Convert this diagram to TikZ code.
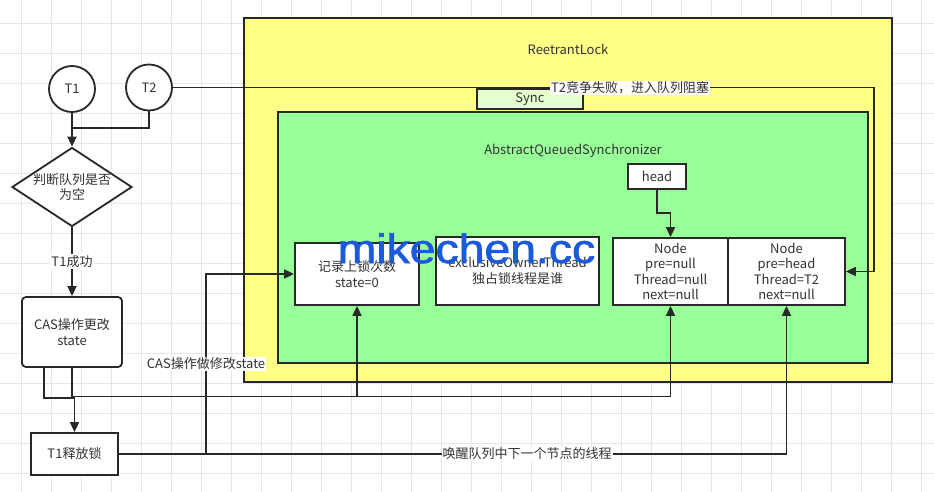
\documentclass[tikz,border=0pt]{standalone}
\usepackage{fontspec}
\setmainfont{Noto Sans CJK SC}
\newfontfamily\wmfont{Liberation Sans}[FakeBold=1.5]
\usetikzlibrary{arrows.meta,shapes.geometric}
\definecolor{linec}{RGB}{40,40,40}
\definecolor{textc}{RGB}{50,50,50}
\definecolor{gridc}{RGB}{230,230,230}
\definecolor{lockyellow}{RGB}{255,255,136}
\definecolor{aqsgreen}{RGB}{153,255,153}
\definecolor{syncgreen}{RGB}{230,255,204}
\definecolor{wmblue}{RGB}{28,90,220}
\begin{document}
\begin{tikzpicture}[x=1pt,y=-1pt,
  font=\fontsize{13}{15.6}\selectfont,
  line/.style={draw=linec, line width=1.8pt},
  arr/.style={line, -{Triangle[length=10pt,width=9pt]}},
  box/.style={draw=linec, line width=1.8pt, fill=white, inner sep=0pt, align=center, text=textc},
  lbl/.style={fill=white, inner sep=1pt, text=textc},
  gridl/.style={draw=gridc, line width=0.8pt}]
\fill[white] (0,0) rectangle (934,492);
\useasboundingbox (0,0) rectangle (934,492);
% grid
\foreach \i in {0,...,31}{\pgfmathsetmacro\gx{21.7+30*\i}\draw[gridl] (\gx,0) -- (\gx,492);}
\foreach \i in {0,...,16}{\pgfmathsetmacro\gy{23.5+30*\i}\draw[gridl] (0,\gy) -- (934,\gy);}
% containers
\node[box, fill=lockyellow, minimum width=648pt, minimum height=364pt] (lock) at (568,200) {};
\node[text=textc] (locklbl) at (568,49) {ReetrantLock};
\node[box, fill=syncgreen, minimum width=106pt, minimum height=20pt] (sync) at (530,99) {Sync};
\node[box, fill=aqsgreen, minimum width=590pt, minimum height=251pt] (aqs) at (573,237.5) {};
\node[text=textc] (aqslbl) at (573,151) {AbstractQueuedSynchronizer};
% inner boxes
\node[box, minimum width=58pt, minimum height=25pt] (head) at (657,176.5) {head};
\node[box, minimum width=124pt, minimum height=62pt] (rec) at (357,274) {记录上锁次数\\state=0};
\node[box, minimum width=163pt, minimum height=68pt] (excl) at (517.5,271) {exclusiveOwnerThread\\独占锁线程是谁};
\node[box, minimum width=115pt, minimum height=67pt] (n1) at (670.5,271.5) {Node\\pre=null\\Thread=null\\next=null};
\node[box, minimum width=117pt, minimum height=67pt] (n2) at (786.5,271.5) {Node\\pre=head\\Thread=T2\\next=null};
% flow
\node[box, circle, minimum size=46pt] (t1) at (72,89) {T1};
\node[box, circle, minimum size=46pt] (t2) at (149,87.5) {T2};
\node[box, diamond, minimum width=120pt, minimum height=79pt] (dia) at (72,187) {};
\node[align=center, text=textc, inner sep=0pt] (diatxt) at (72,187) {判断队列是否\\为空};
\node[box, rounded corners=4pt, minimum width=100pt, minimum height=70pt] (cas) at (72,332) {CAS操作更改\\state};
\node[box, minimum width=87pt, minimum height=42pt] (rel) at (74.5,454) {T1释放锁};
% helper coordinates
\coordinate (join) at (72,128);
\coordinate (xright) at (874,0);
\coordinate (ybus) at (0,396.5);
\coordinate (ylow) at (0,398);
\coordinate (xv) at (206,0);
\coordinate (hy) at (0,213);
% connectors
\draw[arr] (t1.south) -- (dia.north);
\draw[line] (t2.south) |- (join);
\draw[arr] (t2.east) -- (xright |- t2.east) -- (xright |- n2.east) -- (n2.east);
\node[lbl] (t2lbl) at (630,88) {T2竞争失败，进入队列阻塞};
\draw[arr] (dia.south) -- (cas.north);
\node[lbl] (oklbl) at (72,261.5) {T1成功};
\draw[arr] ([xshift=-28pt]cas.south) |- (ylow -| rel.north) -- (rel.north);
\draw[arr] (cas.south) |- (ybus -| rec.south) -- (rec.south);
\draw[arr] (cas.south) |- (ybus -| n1.south) -- (n1.south);
\draw[arr] (rel.east) -| (xv |- rec.west) -- (rec.west);
\node[lbl] (caslbl) at (206,364) {CAS操作做修改state};
\draw[arr] (rel.east) -| (n2.south);
\node[lbl] (wakelbl) at (527,454) {唤醒队列中下一个节点的线程};
\draw[arr] (head.south) |- (hy -| n1.north) -- (n1.north);
% watermark
\node[anchor=base, inner sep=0pt, text=wmblue, font=\wmfont\fontsize{41}{41}\selectfont] (wm) at (466.5,263) {\scalebox{1.13}[1]{mikechen.cc}};
\end{tikzpicture}
\end{document}
